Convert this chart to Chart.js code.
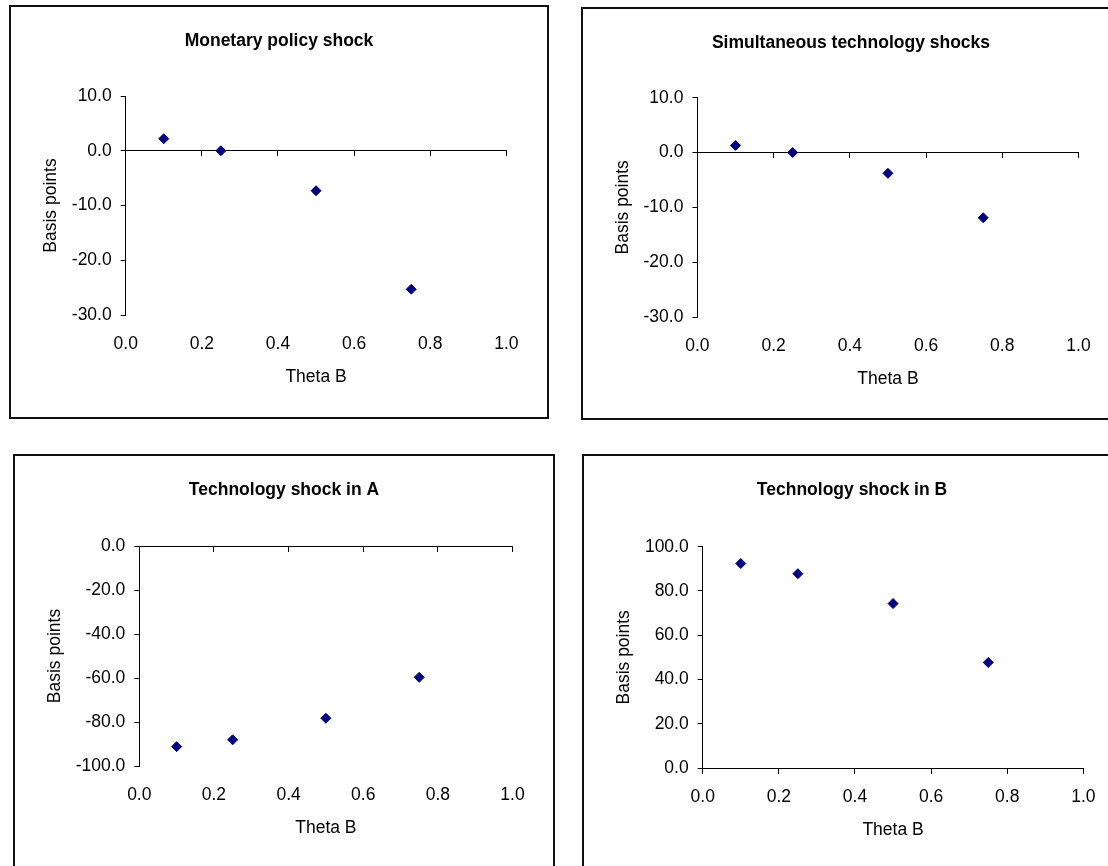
<!DOCTYPE html>
<html>
<head>
<meta charset="utf-8">
<title>Theta B shocks</title>
<script src="https://cdn.jsdelivr.net/npm/chart.js@4/dist/chart.umd.min.js"></script>
<style>
  html, body { margin: 0; padding: 0; background: #fff; overflow: hidden; }
  body { width: 1108px; height: 866px; position: relative; }
  .panel { position: absolute; }
  .frame { position: absolute; left: 0; top: 0; right: 0; bottom: 0; border: 2px solid #111; box-sizing: border-box; pointer-events: none; }
</style>
</head>
<body>
<div class="panel" style="left:9px;top:5px;width:540px;height:414px"><canvas id="c1"></canvas><div class="frame"></div></div>
<div class="panel" style="left:581px;top:7px;width:540px;height:413px"><canvas id="c2"></canvas><div class="frame"></div></div>
<div class="panel" style="left:13px;top:454px;width:542px;height:420px"><canvas id="c3"></canvas><div class="frame"></div></div>
<div class="panel" style="left:582px;top:454px;width:540px;height:420px"><canvas id="c4"></canvas><div class="frame"></div></div>

<script>
// data
const thetaB = [0.1, 0.25, 0.5, 0.75];
const monetaryShock = [2.2, 0.0, -7.3, -25.3];
const simultaneousShock = [1.3, 0.0, -3.8, -11.9];
const techShockA = [-91.2, -88.1, -78.3, -59.7];
const techShockB = [92.4, 87.8, 74.3, 47.7];

const xTicks = [0, 0.2, 0.4, 0.6, 0.8, 1.0];
const monetaryTicks = [-30, -20, -10, 0, 10];
const simultaneousTicks = [-30, -20, -10, 0, 10];
const techATicks = [-100, -80, -60, -40, -20, 0];
const techBTicks = [0, 20, 40, 60, 80, 100];

const titles = [
  "Monetary policy shock",
  "Simultaneous technology shocks",
  "Technology shock in A",
  "Technology shock in B",
];

Chart.defaults.font.family = "'Liberation Sans', Arial, sans-serif";
Chart.defaults.color = "#000";

const FONT = 17.5;
const LH = FONT * 1.2;
const TITLE_Y = 36;

function makePanel(id, title, xs, ys, yTicks, box) {
  const ctx = document.getElementById(id);
  const w = ctx.parentNode.clientWidth;
  const h = ctx.parentNode.clientHeight;
  const pad = w - box.right; // symmetric so the title is centred on the panel
  const fmt = (v) => Number(v).toFixed(1);
  const setTicks = (list) => (scale) => {
    scale.ticks = list.map((v) => ({ value: v }));
  };

  new Chart(ctx, {
    type: "scatter",
    data: {
      datasets: [
        {
          data: xs.map((x, i) => ({ x: x, y: ys[i] })),
          xAxisID: "x",
          yAxisID: "y",
          pointStyle: "rectRot",
          pointRadius: 5,
          pointHoverRadius: 5,
          borderWidth: 1,
          pointBackgroundColor: "#000080",
          pointBorderColor: "#000080",
          showLine: false,
          clip: false,
        },
      ],
    },
    options: {
      responsive: true,
      maintainAspectRatio: false,
      animation: false,
      layout: { padding: { left: pad, right: pad, top: 0, bottom: 0 } },
      plugins: {
        legend: { display: false },
        tooltip: { enabled: false },
        title: {
          display: true,
          text: title,
          color: "#000",
          font: { size: FONT, weight: "bold" },
          padding: { top: TITLE_Y - LH / 2, bottom: box.top - TITLE_Y - LH / 2 },
        },
      },
      scales: {
        // tick labels and title sit below the plot
        x: {
          type: "linear",
          position: "bottom",
          min: xTicks[0],
          max: xTicks[xTicks.length - 1],
          afterBuildTicks: setTicks(xTicks),
          afterFit: (s) => { s.height = h - box.bottom; },
          grid: { display: false, drawTicks: false },
          border: { display: false },
          ticks: { padding: 19, font: { size: FONT }, callback: fmt, maxRotation: 0 },
          title: {
            display: true,
            text: "Theta B",
            font: { size: FONT },
            padding: { top: 0, bottom: h - box.bottom - 62 - LH / 2 },
          },
        },
        // axis line crossing at y = 0
        x0: {
          type: "linear",
          axis: "x",
          position: { y: 0 },
          min: xTicks[0],
          max: xTicks[xTicks.length - 1],
          afterBuildTicks: setTicks(xTicks),
          ticks: { display: false },
          grid: { drawOnChartArea: false, drawTicks: true, tickLength: 5, color: "#000", lineWidth: 1 },
          border: { display: true, color: "#000", width: 1 },
        },
        y: {
          type: "linear",
          position: "left",
          min: yTicks[0],
          max: yTicks[yTicks.length - 1],
          afterBuildTicks: setTicks(yTicks),
          afterFit: (s) => { s.width = box.left - pad; },
          grid: { drawOnChartArea: false, drawTicks: true, tickLength: 5, color: "#000", lineWidth: 1 },
          border: { display: true, color: "#000", width: 1 },
          ticks: { padding: 9, font: { size: FONT }, callback: fmt },
          title: {
            display: true,
            text: "Basis points",
            font: { size: FONT },
            padding: { top: 42 - LH / 2 - pad, bottom: 0 },
          },
        },
      },
    },
  });
}

makePanel("c1", titles[0], thetaB, monetaryShock, monetaryTicks,
  { left: 116.7, right: 497.4, top: 91, bottom: 310 });
makePanel("c2", titles[1], thetaB, simultaneousShock, simultaneousTicks,
  { left: 116.4, right: 497.5, top: 90.7, bottom: 310 });
makePanel("c3", titles[2], thetaB, techShockA, techATicks,
  { left: 126.3, right: 499.5, top: 92, bottom: 312 });
makePanel("c4", titles[3], thetaB, techShockB, techBTicks,
  { left: 120.7, right: 501.4, top: 92.7, bottom: 314 });
</script>
</body>
</html>
